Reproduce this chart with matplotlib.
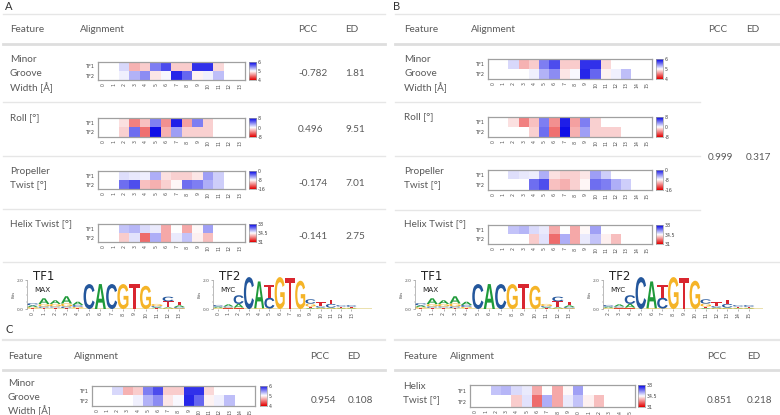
import numpy as np
import matplotlib.pyplot as plt
from matplotlib.textpath import TextPath
from matplotlib.patches import PathPatch
from matplotlib.font_manager import FontProperties
from matplotlib.transforms import Affine2D
from matplotlib.colors import LinearSegmentedColormap
from matplotlib.lines import Line2D

W, H = 780, 415
nan = np.nan

# ---- heatmap values ----
mgw_a_tf1 = [nan, nan, 5.15, 4.7, 4.8, 5.5, 5.7, 4.8, 4.8, 5.8, 5.8, 4.85, nan, nan]
mgw_a_tf2 = [nan, nan, 5.06, 5.3, 5.45, 4.9, 5.03, 5.85, 5.6, 4.95, 5.06, 5.25, nan, nan]
roll_a_tf1 = [nan, nan, -1, -4, -2, 4, -3.5, 7, -3, 4, -1.5, nan, nan, nan]
roll_a_tf2 = [nan, nan, -1.5, 4.5, -4.5, 7.5, -2.5, 3, -1.5, -1.5, -1.5, nan, nan, nan]
prop_a_tf1 = [nan, nan, -7, -7.3, -7.5, -5.5, -9, -9.5, -9.5, -8.8, -5, -6.5, nan, nan]
prop_a_tf2 = [nan, nan, -3.5, -2.5, -10, -10.5, -9.5, -8.3, -3.5, -4, -5.5, -6.5, nan, nan]
helix_a_tf1 = [nan, nan, 35.3, 35.5, 35.0, 34.8, 33.3, 34.5, 33.3, 34.4, 35.8, nan, nan, nan]
helix_a_tf2 = [nan, nan, 33.8, 34.9, 32.5, 35.6, 33.3, 34.8, 35.3, 34.3, 33.6, nan, nan, nan]

mgw_b_tf1 = [nan, nan, 5.15, 4.7, 4.8, 5.5, 5.7, 4.8, 4.8, 5.8, 5.8, 4.85, nan, nan, nan, nan]
mgw_b_tf2 = [nan, nan, nan, nan, 5.06, 5.3, 5.45, 4.9, 5.03, 5.85, 5.6, 4.95, 5.06, 5.25, nan, nan]
roll_b_tf1 = [nan, nan, -1, -4, -2, 4, -3.5, 7, -3, 4, -1.5, nan, nan, nan, nan, nan]
roll_b_tf2 = [nan, nan, nan, nan, -1.5, 4.5, -4.5, 7.5, -2.5, 3, -1.5, -1.5, -1.5, nan, nan, nan]
prop_b_tf1 = [nan, nan, -7, -7.3, -7.5, -5.5, -9, -9.5, -9.5, -8.8, -5, -6.5, nan, nan, nan, nan]
prop_b_tf2 = [nan, nan, nan, nan, -3.5, -2.5, -10, -10.5, -9.5, -8.3, -3.5, -4, -5.5, -6.5, nan, nan]
helix_b_tf1 = [nan, nan, 35.3, 35.5, 35.0, 34.8, 33.3, 34.5, 33.3, 34.4, 35.8, nan, nan, nan, nan, nan]
helix_b_tf2 = [nan, nan, nan, nan, 33.8, 34.9, 32.5, 35.6, 33.3, 34.8, 35.3, 34.3, 33.6, nan, nan, nan]

# colour scales: (vmin, mid, vmax)
mgw_scale = [4, 5, 6]
roll_scale = [-8, 0, 8]
prop_scale = [-16, -8, 0]
helix_scale = [31, 34.5, 38]

pcc_a = ["-0.782", "0.496", "-0.174", "-0.141"]
ed_a = ["1.81", "9.51", "7.01", "2.75"]

# ---- sequence logos, per position: (letter, bits) from bottom to top ----
logo_max = [
    [('T', 0.05), ('G', 0.08), ('A', 0.12), ('C', 0.15)],
    [('T', 0.08), ('C', 0.1), ('G', 0.16), ('A', 0.4)],
    [('T', 0.1), ('C', 0.08), ('G', 0.17), ('A', 0.25)],
    [('T', 0.06), ('C', 0.12), ('G', 0.2), ('A', 0.5)],
    [('T', 0.06), ('G', 0.08), ('C', 0.14), ('A', 0.22)],
    [('C', 1.72)],
    [('A', 1.72)],
    [('C', 1.72)],
    [('G', 1.72)],
    [('T', 1.72)],
    [('G', 1.6)],
    [('T', 0.06), ('A', 0.06), ('C', 0.08), ('G', 0.15)],
    [('G', 0.05), ('A', 0.06), ('T', 0.42), ('C', 0.32)],
    [('G', 0.05), ('C', 0.08), ('A', 0.12), ('T', 0.25)],
]
logo_myc = [
    [('T', 0.03), ('G', 0.05), ('A', 0.08), ('C', 0.12)],
    [('T', 0.04), ('G', 0.06), ('C', 0.08), ('A', 0.14)],
    [('T', 0.04), ('G', 0.06), ('A', 0.25), ('C', 0.6)],
    [('C', 2.2)],
    [('G', 0.05), ('A', 1.85)],
    [('G', 0.03), ('C', 0.75), ('T', 0.85)],
    [('G', 2.2)],
    [('T', 2.15)],
    [('G', 1.95)],
    [('A', 0.05), ('T', 0.12), ('G', 0.2), ('C', 0.3)],
    [('G', 0.05), ('A', 0.05), ('C', 0.1), ('T', 0.25)],
    [('G', 0.05), ('A', 0.05), ('C', 0.25), ('T', 0.3)],
    [('A', 0.04), ('G', 0.05), ('T', 0.08), ('C', 0.1)],
    [('A', 0.04), ('G', 0.05), ('T', 0.06), ('C', 0.12)],
]
ticks_max = list(range(14))
ticks_myc_a = list(range(14))
ticks_myc_b = list(range(2, 16))

base_colors = {'A': '#1f9a3a', 'C': '#24579c', 'G': '#f5b427', 'T': '#d9262f'}

plt.rcParams['font.family'] = ['Lato', 'DejaVu Sans']
GREY = '#5a5a5a'
cmap = LinearSegmentedColormap.from_list('rwb', ['#e30000', '#ffffff', '#0000e6'])
cmap.set_bad('white')

fig = plt.figure(figsize=(W / 100, H / 100), dpi=100)


def rect(x0, y0, x1, y1):
    return [x0 / W, 1 - y1 / H, (x1 - x0) / W, (y1 - y0) / H]


def txt(x, y, s, size=7.2, color=GREY, **kw):
    fig.text(x / W, 1 - y / H, s, fontsize=size, color=color, va='center', ha='left', **kw)


def hline(y, x0, x1, lw=1.0, color='#e6e6e6'):
    fig.add_artist(Line2D([x0 / W, x1 / W], [1 - y / H] * 2, lw=lw, color=color))


def heat(x0, y0, x1, y1, cbx, tf1, tf2, scale, cbl):
    ax = fig.add_axes(rect(x0, y0, x1, y1))
    data = np.array([tf1, tf2], dtype=float)
    n = data.shape[1]
    ax.imshow(np.ma.masked_invalid(data), cmap=cmap, vmin=scale[0], vmax=scale[2],
              aspect='auto', interpolation='nearest')
    ax.set_yticks([0, 1])
    ax.set_yticklabels(['TF1', 'TF2'], fontsize=3.6, color='#444', family='DejaVu Sans')
    ax.set_xticks(range(n))
    ax.set_xticklabels([str(i) for i in range(n)], rotation=90, fontsize=3.4,
                       color='#555', family='DejaVu Sans')
    ax.tick_params(length=0, pad=2.5)
    for s in ax.spines.values():
        s.set_color('#a0a0a0')
        s.set_linewidth(0.9)
    # colour bar
    cax = fig.add_axes(rect(cbx, y0, cbx + 7, y1))
    grad = np.linspace(scale[0], scale[2], 64)[:, None]
    cax.imshow(grad, cmap=cmap, vmin=scale[0], vmax=scale[2], aspect='auto',
               origin='lower', extent=[0, 1, scale[0], scale[2]])
    cax.set_xticks([])
    cax.yaxis.tick_right()
    cax.set_yticks(scale)
    cax.set_yticklabels(cbl, fontsize=3.4, color='#444', family='DejaVu Sans')
    cax.tick_params(length=0, pad=1.5)
    for s in cax.spines.values():
        s.set_color('#a0a0a0')
        s.set_linewidth(0.5)


logo_font = FontProperties(family='Liberation Sans', weight='bold')


def letter(ax, ch, x, y, w, h):
    tp = TextPath((0, 0), ch, size=1, prop=logo_font)
    bb = tp.get_extents()
    tr = Affine2D().translate(-bb.x0, -bb.y0).scale(w / bb.width, h / bb.height).translate(x - w / 2, y)
    ax.add_patch(PathPatch(tr.transform_path(tp), fc=base_colors[ch], ec='none', clip_on=False))


def logo(x0, x1, cols, ticks, tf, prot, tail=0):
    ax = fig.add_axes(rect(x0, 280, x1, 309))
    n = len(cols)
    ax.set_xlim(-0.5, n - 0.5 + tail)
    ax.set_ylim(0, 2.0)
    for i, stack in enumerate(cols):
        y = 0
        for ch, h in stack:
            letter(ax, ch, i, y, 0.98, h)
            y += h
    ax.axhline(0.02, color='#e8dca0', lw=1.2, zorder=0)
    ax.set_yticks([0, 2.0])
    ax.set_yticklabels(['0.0', '2.0'], fontsize=3.2, color='#555', family='DejaVu Sans')
    ax.set_yticks([0.5, 1.0, 1.5], minor=True)
    ax.set_ylabel('Bits', fontsize=2.8, color='#555', family='DejaVu Sans', labelpad=1)
    ax.set_xticks(range(n))
    ax.set_xticklabels([str(t) for t in ticks], rotation=90, fontsize=3.4,
                       color='#555', family='DejaVu Sans')
    ax.tick_params(axis='y', length=1.5, width=0.4, pad=1, color='#777')
    ax.tick_params(axis='y', which='minor', length=1, width=0.3, color='#777')
    ax.tick_params(axis='x', length=1.5, width=0.4, pad=1, color='#777')
    for k in ['top', 'right', 'bottom']:
        ax.spines[k].set_visible(False)
    ax.spines['left'].set_color('#888')
    ax.spines['left'].set_linewidth(0.4)
    ax.patch.set_alpha(0)
    fx = x0 + 6
    txt(fx, 277, tf, size=8.5, color='#222', family='DejaVu Sans')
    txt(fx + 1, 290, prot, size=5.2, color='#222', family='DejaVu Sans')


# ================= panel A =================
txt(5, 7, 'A', size=8, color='#333')
hline(14, 3, 385)
txt(10, 29, 'Feature')
txt(80, 29, 'Alignment')
txt(298, 29, 'PCC')
txt(345, 29, 'ED')
hline(44, 3, 385, lw=2.0, color='#dedede')

rows_a = [
    (['Minor', 'Groove', 'Width [Å]'], 60, 62, 80, 74, mgw_a_tf1, mgw_a_tf2, mgw_scale, ['4', '5', '6']),
    (['Roll [°]'], 118, 118, 137, 130, roll_a_tf1, roll_a_tf2, roll_scale, ['-8', '0', '8']),
    (['Propeller', 'Twist [°]'], 171, 171, 189, 184, prop_a_tf1, prop_a_tf2, prop_scale, ['-16', '-8', '0']),
    (['Helix Twist [°]'], 224, 224, 242, 236, helix_a_tf1, helix_a_tf2, helix_scale, ['31', '34.5', '38']),
]
for k, (lab, ly, hy0, hy1, vy, t1, t2, sc, cbl) in enumerate(rows_a):
    for j, s in enumerate(lab):
        txt(10, ly + 14 * j, s)
    heat(98, hy0, 245, hy1, 249, t1, t2, sc, cbl)
    txt(298, vy, pcc_a[k])
    txt(345, vy, ed_a[k])
for y in [102, 156, 209, 262]:
    hline(y, 3, 385)

logo(27, 185, logo_max, ticks_max, 'TF1', 'MAX')
logo(213, 372, logo_myc, ticks_myc_a, 'TF2', 'MYC', tail=1.5)

# ================= panel B =================
txt(393, 7, 'B', size=8, color='#333')
hline(14, 395, 780)
txt(404, 29, 'Feature')
txt(471, 29, 'Alignment')
txt(708, 29, 'PCC')
txt(746, 29, 'ED')
hline(44, 395, 780, lw=2.0, color='#dedede')

rows_b = [
    (['Minor', 'Groove', 'Width [Å]'], 60, 59, 79, mgw_b_tf1, mgw_b_tf2, mgw_scale, ['4', '5', '6']),
    (['Roll [°]'], 117, 117, 137, roll_b_tf1, roll_b_tf2, roll_scale, ['-8', '0', '8']),
    (['Propeller', 'Twist [°]'], 171, 170, 190, prop_b_tf1, prop_b_tf2, prop_scale, ['-16', '-8', '0']),
    (['Helix Twist [°]'], 224, 225, 244, helix_b_tf1, helix_b_tf2, helix_scale, ['31', '34.5', '38']),
]
for lab, ly, hy0, hy1, t1, t2, sc, cbl in rows_b:
    for j, s in enumerate(lab):
        txt(404, ly + 14 * j, s)
    heat(488, hy0, 652, hy1, 656, t1, t2, sc, cbl)
for y in [102, 156, 210]:
    hline(y, 395, 700)
hline(262, 395, 780)
txt(708, 158, '0.999')
txt(746, 158, '0.317')

logo(415, 575, logo_max, ticks_max, 'TF1', 'MAX')
logo(603, 763, logo_myc, ticks_myc_b, 'TF2', 'MYC', tail=0.8)

# ================= panel C =================
txt(5, 329, 'C', size=8, color='#333')
hline(340, 3, 385, lw=1.6, color='#e6e6e6')
txt(8, 356, 'Feature')
txt(74, 356, 'Alignment')
txt(310, 356, 'PCC')
txt(347, 356, 'ED')
hline(370, 3, 385, lw=2.0, color='#dedede')
for j, s in enumerate(['Minor', 'Groove', 'Width [Å]']):
    txt(8, 383 + 14 * j, s)
heat(92, 386, 255, 406, 260, mgw_b_tf1, mgw_b_tf2, mgw_scale, ['4', '5', '6'])
txt(311, 400, '0.954')
txt(348, 400, '0.108')

hline(340, 395, 780, lw=1.6, color='#e6e6e6')
txt(403, 356, 'Feature')
txt(450, 356, 'Alignment')
txt(707, 356, 'PCC')
txt(747, 356, 'ED')
hline(370, 395, 780, lw=2.0, color='#dedede')
txt(403, 386, 'Helix')
txt(403, 400, 'Twist [°]')
heat(470, 385, 635, 407, 638, helix_b_tf1, helix_b_tf2, helix_scale, ['31', '34.5', '38'])
txt(707, 400, '0.851')
txt(747, 400, '0.218')

fig.savefig('out.png', dpi=100, facecolor='white')
